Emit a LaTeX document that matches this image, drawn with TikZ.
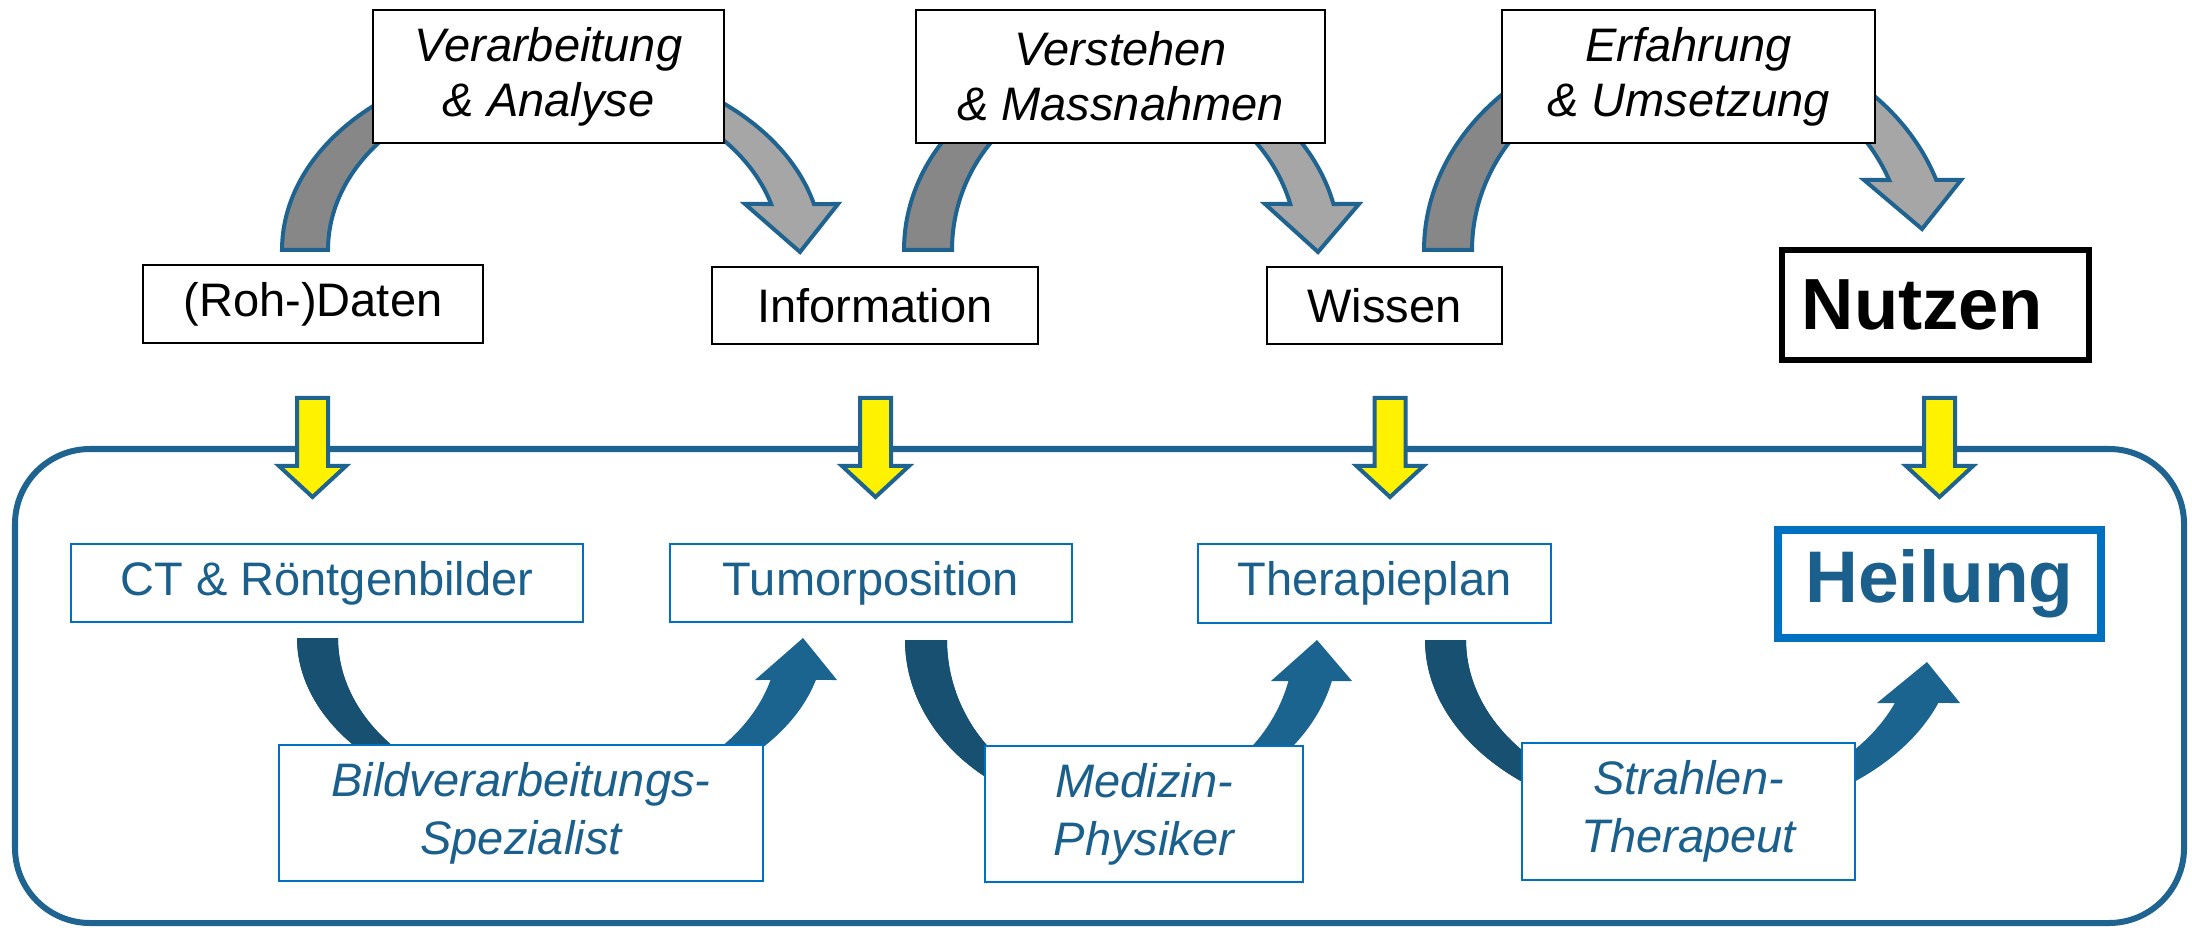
\documentclass[tikz,border=0pt]{standalone}
\usepackage{fontspec}
\setmainfont{Liberation Sans}
\definecolor{outl}{RGB}{31,99,145}
\definecolor{gdark}{RGB}{135,135,135}
\definecolor{glight}{RGB}{166,166,166}
\definecolor{bdark}{RGB}{23,80,113}
\definecolor{blight}{RGB}{27,100,143}
\definecolor{boxblue}{RGB}{0,112,192}
\definecolor{txtblue}{RGB}{27,96,140}
\newcommand\mybox[7]{\node[#2, minimum width={(#5-#3)*0.01cm}, minimum height={(#6-#4)*0.01cm}] (#1) at ({(#3+#5)/2},{(#4+#6)/2}) {#7};}
\newcommand\yarr[1]{\draw[yellowarrow] ({#1-15.5},398) -- ({#1+15.5},398) -- ({#1+15.5},466) -- ({#1+33.5},466) -- (#1,497) -- ({#1-33.5},466) -- ({#1-15.5},466) -- cycle;}
\newcommand\twotone[4]{% path, split x, dark, light
  \fill[#4] #1;
  \begin{scope}\clip (0,0) rectangle (#2,1000); \fill[#3] #1; \end{scope}}
\begin{document}
\begin{tikzpicture}[x=0.01cm,y=-0.01cm,
  every plot/.style={samples=60},
  topbox/.style={draw=black, line width=0.025cm, fill=white, inner sep=0pt, align=center, text=black,
    font=\fontsize{13.37pt}{15.65pt}\selectfont\itshape},
  topword/.style={topbox, font=\fontsize{13.37pt}{15.65pt}\selectfont},
  lowbox/.style={draw=boxblue, line width=0.025cm, fill=white, inner sep=0pt, align=center, text=txtblue,
    font=\fontsize{13.37pt}{16.5pt}\selectfont},
  lowital/.style={lowbox, font=\fontsize{13.37pt}{16.5pt}\selectfont\itshape},
  arcline/.style={draw=outl, line width=0.04cm},
  yellowarrow/.style={draw=outl, line width=0.04cm, fill=yellow},
  container/.style={draw=outl, line width=0.06cm, rounded corners=0.75cm}]
\useasboundingbox (0,0) rectangle (2192,928);

% ---------- upper curved arrows ----------
\def\pthA{(282,250) -- plot[domain=180:90] ({548+266*cos(\x)},{250-191*sin(\x)}) -- plot[domain=90:13.93] ({548+274*cos(\x)},{250-191*sin(\x)}) -- (838,204) -- (800,252) -- (745,204) -- plot[domain=15.89:90] ({548+232*cos(\x)},{250-168*sin(\x)}) -- plot[domain=90:180] ({548+220*cos(\x)},{250-168*sin(\x)}) -- cycle}
\def\pthB{(904,250) -- plot[domain=180:90] ({1120+216*cos(\x)},{250-190*sin(\x)}) -- plot[domain=90:14.01] ({1120+220*cos(\x)},{250-190*sin(\x)}) -- (1359,204) -- (1318,252) -- (1265,204) -- plot[domain=15.89:90] ({1120+177*cos(\x)},{250-168*sin(\x)}) -- plot[domain=90:180] ({1120+168*cos(\x)},{250-168*sin(\x)}) -- cycle}
\def\pthC{(1424,250) -- plot[domain=180:90] ({1688+264*cos(\x)},{250-219*sin(\x)}) -- plot[domain=90:18.64] ({1688+262*cos(\x)},{250-219*sin(\x)}) -- (1961,180) -- (1922,229) -- (1864,180) -- plot[domain=21.38:90] ({1688+216*cos(\x)},{250-192*sin(\x)}) -- plot[domain=90:180] ({1688+216*cos(\x)},{250-192*sin(\x)}) -- cycle}
\twotone{\pthA}{548}{gdark}{glight}
\draw[arcline] \pthA;
\twotone{\pthB}{1120}{gdark}{glight}
\draw[arcline] \pthB;
\twotone{\pthC}{1688}{gdark}{glight}
\draw[arcline] \pthC;

% ---------- top row ----------
\mybox{va}{topbox}{373}{10}{724}{143}{Verarbeitung\\\& Analyse}
\mybox{vm}{topbox}{916}{10}{1325}{143}{Verstehen\\\& Massnahmen}
\mybox{eu}{topbox}{1502}{10}{1875}{143}{Erfahrung\\\& Umsetzung}
\mybox{daten}{topword}{143}{265}{483}{343}{(Roh-)Daten}
\mybox{info}{topword}{712}{267}{1038}{344}{Information}
\mybox{wissen}{topword}{1267}{267}{1502}{344}{Wissen}
\mybox{nutzen}{topword, line width=0.065cm, font=\fontsize{20.6pt}{24pt}\selectfont\bfseries}{1782}{250}{2089}{360}{Nutzen\hspace*{0.26cm}}

% ---------- container ----------
\draw[container] (15,449) rectangle (2184,923);

% ---------- lower curved arrows ----------
\def\pthD{(297,638) -- plot[domain=180:90] ({556+259*cos(\x)},{638+172*sin(\x)}) -- plot[domain=90:14.13] ({556+268*cos(\x)},{638+172*sin(\x)}) -- (837,680) -- (803,638) -- (755,680) -- plot[domain=14.93:90] ({556+222*cos(\x)},{638+163*sin(\x)}) -- plot[domain=90:180] ({556+218*cos(\x)},{638+163*sin(\x)}) -- cycle}
\def\pthE{(905,640) -- plot[domain=180:90] ({1118+213*cos(\x)},{640+175*sin(\x)}) -- plot[domain=90:13.55] ({1118+220*cos(\x)},{640+175*sin(\x)}) -- (1352,681) -- (1317,640) -- (1271,681) -- plot[domain=14.48:90] ({1118+176*cos(\x)},{640+164*sin(\x)}) -- plot[domain=90:180] ({1118+171*cos(\x)},{640+164*sin(\x)}) -- cycle}
\def\pthF{(1425,640) -- plot[domain=180:90] ({1685+260*cos(\x)},{640+182*sin(\x)}) -- plot[domain=90:20.25] ({1685+270*cos(\x)},{640+182*sin(\x)}) -- (1960,703) -- (1927,662) -- (1877,703) -- plot[domain=22.45:90] ({1685+227*cos(\x)},{640+165*sin(\x)}) -- plot[domain=90:180] ({1685+219*cos(\x)},{640+165*sin(\x)}) -- cycle}
\twotone{\pthD}{556}{bdark}{blight}
\twotone{\pthE}{1118}{bdark}{blight}
\twotone{\pthF}{1685}{bdark}{blight}

% ---------- lower row ----------
\mybox{ct}{lowbox}{71}{544}{583}{622}{CT \& Röntgenbilder}
\mybox{tumor}{lowbox}{670}{544}{1072}{622}{Tumorposition}
\mybox{plan}{lowbox}{1198}{544}{1551}{623}{Therapieplan}
\mybox{heil}{lowbox, line width=0.075cm, font=\fontsize{20.8pt}{24pt}\selectfont\bfseries}{1778}{530}{2101}{638}{Heilung}
\mybox{bild}{lowital}{279}{745}{763}{881}{Bildverarbeitungs-\\Spezialist}
\mybox{med}{lowital}{985}{746}{1303}{882}{Medizin-\\Physiker}
\mybox{str}{lowital}{1522}{743}{1855}{880}{Strahlen-\\Therapeut}

% ---------- yellow arrows ----------
\yarr{312.5}
\yarr{875.5}
\yarr{1390}
\yarr{1939.5}
\end{tikzpicture}
\end{document}
